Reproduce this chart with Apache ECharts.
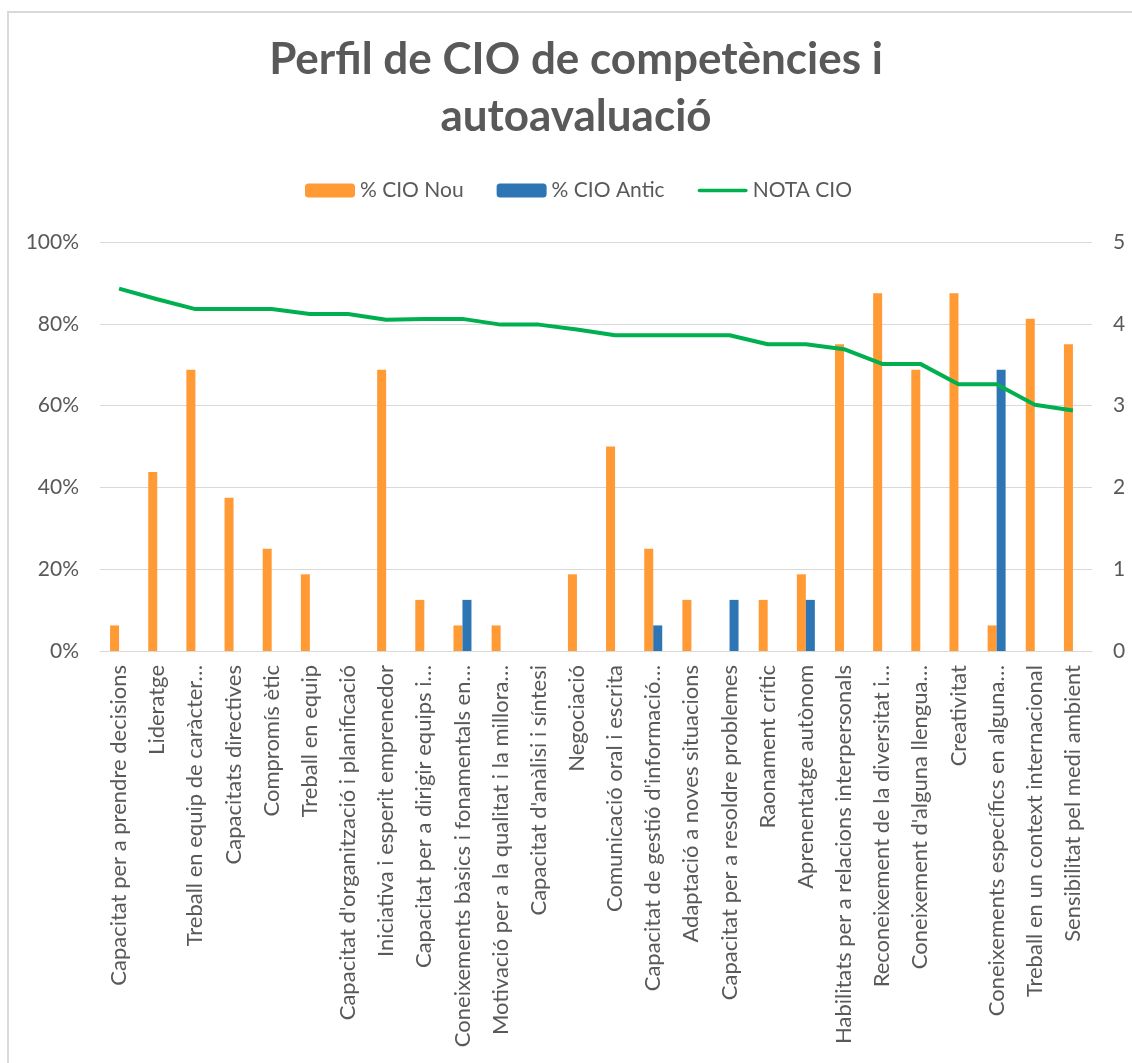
<!DOCTYPE html>
<html>
<head>
<meta charset="utf-8">
<script src="https://cdn.jsdelivr.net/npm/echarts@6/dist/echarts.min.js"></script>
<style>
  html, body { margin: 0; padding: 0; background: #fff; overflow: hidden; width: 1132px; height: 1063px; }
  #frame { position: absolute; left: 7px; top: 11px; width: 1200px; height: 1200px; border: 2px solid #d9d9d9; box-sizing: border-box; }
  #chart { position: absolute; left: 0; top: 0; width: 1132px; height: 1063px; }
</style>
</head>
<body>
<div id="frame"></div>
<div id="chart"></div>
<script>
var categories = [
  'Capacitat per a prendre decisions', 'Lideratge', 'Treball en equip de caràcter…',
  'Capacitats directives', 'Compromís ètic', 'Treball en equip',
  "Capacitat d'organització i planificació", 'Iniciativa i esperit emprenedor',
  'Capacitat per a dirigir equips i…', 'Coneixements bàsics i fonamentals en…',
  'Motivació per a la qualitat i la millora…', "Capacitat d'anàlisi i síntesi",
  'Negociació', 'Comunicació oral i escrita', "Capacitat de gestió d'informació…",
  'Adaptació a noves situacions', 'Capacitat per a resoldre problemes',
  'Raonament crític', 'Aprenentatge autònom', 'Habilitats per a relacions interpersonals',
  'Reconeixement de la diversitat i…', "Coneixement d'alguna llengua…",
  'Creativitat', 'Coneixements específics en alguna…',
  'Treball en un context internacional', 'Sensibilitat pel medi ambient'
];
// % CIO Nou
var cioNou = [6.25, 43.75, 68.75, 37.5, 25, 18.75, 0, 68.75, 12.5, 6.25, 6.25, 0, 18.75,
  50, 25, 12.5, 0, 12.5, 18.75, 75, 87.5, 68.75, 87.5, 6.25, 81.25, 75];
// % CIO Antic
var cioAntic = [0, 0, 0, 0, 0, 0, 0, 0, 0, 12.5, 0, 0, 0,
  0, 6.25, 0, 12.5, 0, 12.5, 0, 0, 0, 0, 68.75, 0, 0];
// NOTA CIO (eix dret)
var notaCio = [4.43, 4.3, 4.18, 4.18, 4.18, 4.12, 4.12, 4.05, 4.06, 4.06, 3.99, 3.99, 3.93,
  3.86, 3.86, 3.86, 3.86, 3.75, 3.75, 3.69, 3.51, 3.51, 3.26, 3.26, 3.01, 2.94];
var leftTicks = [0, 20, 40, 60, 80, 100];
var rightTicks = [0, 1, 2, 3, 4, 5];

var font = 'Lato, "Open Sans", sans-serif';

var myChart = echarts.init(document.getElementById('chart'));

option = {
  backgroundColor: 'transparent',
  title: {
    text: 'Perfil de CIO de competències i\nautoavaluació',
    left: 576,          // with textAlign center this is the centre line
    top: 31,
    padding: 0,
    textAlign: 'center',
    textStyle: { fontFamily: font, fontSize: 44, fontWeight: 'bold', color: '#595959', lineHeight: 57 }
  },
  legend: {
    data: ['% CIO Nou', '% CIO Antic', {
      name: 'NOTA CIO', icon: 'path://M2,0 L53,0 A2,2 0 0 1 53,4 L2,4 A2,2 0 0 1 2,0 Z'
    }],
    left: 305,
    top: 180,
    padding: 0,
    itemWidth: 50,
    itemHeight: 14,
    itemGap: 33,
    textStyle: { fontFamily: font, fontSize: 21, color: '#595959' }
  },
  grid: { left: 100, right: 40, top: 242, bottom: 412 },
  xAxis: [{
    type: 'category',
    data: categories,
    axisLine: { lineStyle: { color: '#d9d9d9' } },
    axisTick: { show: false },
    axisLabel: { rotate: 90, interval: 0, margin: 14, fontFamily: font, fontSize: 22, color: '#595959' }
  }],
  yAxis: [{
    type: 'value', min: leftTicks[0], max: leftTicks[leftTicks.length - 1], interval: 20,
    axisLine: { show: false }, axisTick: { show: false },
    axisLabel: { formatter: '{value}%', margin: 21, fontFamily: font, fontSize: 21, color: '#595959' },
    splitLine: { lineStyle: { color: '#d9d9d9' } }
  }, {
    type: 'value', min: rightTicks[0], max: rightTicks[rightTicks.length - 1], interval: 1,
    axisLine: { show: false }, axisTick: { show: false },
    axisLabel: { margin: 21, fontFamily: font, fontSize: 21, color: '#595959' },
    splitLine: { show: false }
  }],
  series: [{
    name: '% CIO Nou', type: 'bar', data: cioNou, barWidth: 9, barGap: '0%',
    itemStyle: { color: '#FF9A35' }
  }, {
    name: '% CIO Antic', type: 'bar', data: cioAntic, barWidth: 9, barGap: '0%',
    itemStyle: { color: '#2E75B6' }
  }, {
    name: 'NOTA CIO', type: 'line', yAxisIndex: 1, data: notaCio,
    symbol: 'none', showSymbol: false,
    lineStyle: { color: '#00B050', width: 4 },
    itemStyle: { color: '#00B050' }
  }]
};

myChart.setOption(option);
</script>
</body>
</html>
